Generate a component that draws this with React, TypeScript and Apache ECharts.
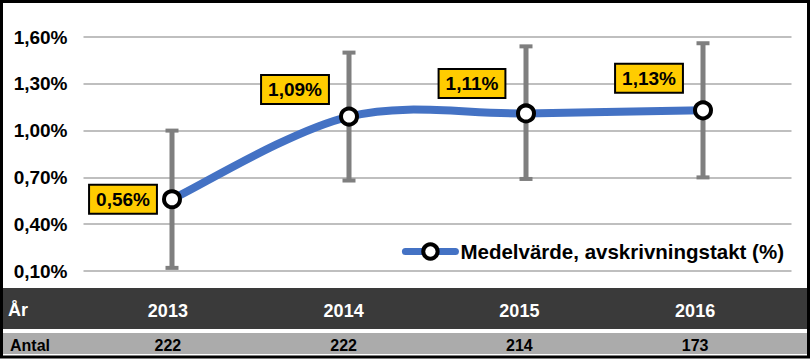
import React, { useEffect, useRef } from "react";
import * as echarts from "echarts";

const years = ["2013", "2014", "2015", "2016"];
const counts = ["222", "222", "214", "173"];
const meanValues = [0.56, 1.09, 1.11, 1.13];
const errLow = [0.12, 0.68, 0.69, 0.7];
const errHigh = [1.0, 1.5, 1.54, 1.56];
const labelOffsets: [number, number][] = [[-49, 0], [-54, -27], [-54, -30], [-54, -32]];
const seriesName = "Medelvärde, avskrivningstakt (%)";
const rowTitleYear = "År";
const rowTitleCount = "Antal";

const FONT = "'Liberation Sans', Arial, sans-serif";
const BLUE = "#4472c4";
const fmt = (v: number) => v.toFixed(2).replace(".", ",") + "%";

// segment data for a Catmull-Rom style (Excel-like) smoothed line
const n = meanValues.length;
const segments = meanValues.slice(0, n - 1).map((_, i) => {
  const a = Math.max(i - 1, 0);
  const d = Math.min(i + 2, n - 1);
  return [i, meanValues[i], a, meanValues[a], i + 1, meanValues[i + 1], d, meanValues[d]];
});

export default function App() {
  const ref = useRef<HTMLDivElement>(null);
  useEffect(() => {
    if (!ref.current) return;
    const chart = echarts.init(ref.current, null, { renderer: "svg" });
    const option: any = {
      animation: false,
      backgroundColor: "#ffffff",
      textStyle: { fontFamily: FONT },
      grid: [
        { left: 83.5, right: 19.5, top: 37, bottom: 88 },
        { left: 80, right: 28, top: 288, height: 41 },
      ],
      legend: {
        data: [
          {
            name: seriesName,
            itemStyle: { color: "#ffffff", borderColor: "#000000", borderWidth: 4 },
            lineStyle: { color: BLUE, width: 7, opacity: 1, cap: "round" },
          },
        ],
        right: 22,
        top: 236,
        itemWidth: 50,
        itemHeight: 18,
        itemGap: 6,
        textStyle: { fontSize: 20.5, fontWeight: "bold", color: "#000", fontFamily: FONT },
      },
      xAxis: [
        {
          type: "category",
          gridIndex: 0,
          data: years,
          boundaryGap: true,
          axisLine: { show: false },
          axisTick: { show: false },
          axisLabel: { show: false },
        },
        {
          type: "category",
          gridIndex: 1,
          data: years,
          position: "bottom",
          z: 10,
          axisLine: { show: false },
          axisTick: { show: false },
          axisLabel: {
            margin: -18,
            verticalAlign: "middle",
            color: "#ffffff",
            fontSize: 18,
            fontWeight: "bold",
            fontFamily: FONT,
          },
        },
        {
          type: "category",
          gridIndex: 1,
          data: counts,
          position: "bottom",
          z: 10,
          axisLine: { show: false },
          axisTick: { show: false },
          axisLabel: {
            margin: 16,
            verticalAlign: "middle",
            color: "#000000",
            fontSize: 16,
            fontWeight: "bold",
            fontFamily: FONT,
          },
        },
      ],
      yAxis: [
        {
          type: "value",
          gridIndex: 0,
          min: 0.1,
          max: 1.6,
          interval: 0.3,
          axisLine: { show: false },
          axisTick: { show: false },
          splitLine: { lineStyle: { color: "#bfbfbf", width: 2 } },
          axisLabel: {
            margin: 16,
            color: "#000",
            fontSize: 19,
            fontWeight: "bold",
            fontFamily: FONT,
            formatter: (v: number) => fmt(v),
          },
        },
        {
          type: "value",
          gridIndex: 1,
          show: false,
        },
      ],
      graphic: [
        {
          type: "rect",
          z: 0,
          shape: { x: 3, y: 288, width: 805, height: 41 },
          style: { fill: "#3a3a3a" },
        },
        {
          type: "rect",
          z: 0,
          shape: { x: 3, y: 333, width: 805, height: 21 },
          style: { fill: "#ababab" },
        },
        {
          type: "text",
          z: 11,
          x: 8,
          y: 310,
          style: {
            text: rowTitleYear,
            fill: "#ffffff",
            font: `bold 18px ${FONT}`,
            verticalAlign: "middle",
          },
        },
        {
          type: "text",
          z: 11,
          x: 10,
          y: 345,
          style: {
            text: rowTitleCount,
            fill: "#000000",
            font: `bold 16px ${FONT}`,
            verticalAlign: "middle",
          },
        },
        {
          type: "rect",
          z: 100,
          shape: { x: 1.5, y: 1.5, width: 807, height: 355.5 },
          style: { fill: "none", stroke: "#000000", lineWidth: 3 },
        },
      ],
      series: [
        {
          type: "custom",
          name: "err",
          xAxisIndex: 0,
          yAxisIndex: 0,
          z: 1,
          data: years.map((_, i) => [i, errLow[i], errHigh[i]]),
          renderItem: (params: any, api: any) => {
            const lo = api.coord([api.value(0), api.value(1)]);
            const hi = api.coord([api.value(0), api.value(2)]);
            const half = 6.5;
            const st = { stroke: "#7f7f7f", lineWidth: 5 };
            const cap = { stroke: "#7f7f7f", lineWidth: 4 };
            return {
              type: "group",
              children: [
                { type: "line", shape: { x1: lo[0], y1: lo[1], x2: hi[0], y2: hi[1] }, style: st },
                { type: "line", shape: { x1: lo[0] - half, y1: lo[1], x2: lo[0] + half, y2: lo[1] }, style: cap },
                { type: "line", shape: { x1: hi[0] - half, y1: hi[1], x2: hi[0] + half, y2: hi[1] }, style: cap },
              ],
            };
          },
        },
        {
          type: "custom",
          name: "curve",
          xAxisIndex: 0,
          yAxisIndex: 0,
          z: 2,
          encode: { x: 0, y: 1 },
          data: segments,
          renderItem: (params: any, api: any) => {
            const p1 = api.coord([api.value(0), api.value(1)]);
            const p0 = api.coord([api.value(2), api.value(3)]);
            const p2 = api.coord([api.value(4), api.value(5)]);
            const p3 = api.coord([api.value(6), api.value(7)]);
            const c1x = p1[0] + (p2[0] - p0[0]) / 6;
            const c1y = p1[1] + (p2[1] - p0[1]) / 6;
            const c2x = p2[0] - (p3[0] - p1[0]) / 6;
            const c2y = p2[1] - (p3[1] - p1[1]) / 6;
            return {
              type: "bezierCurve",
              shape: { x1: p1[0], y1: p1[1], cpx1: c1x, cpy1: c1y, cpx2: c2x, cpy2: c2y, x2: p2[0], y2: p2[1] },
              style: { stroke: BLUE, lineWidth: 8, fill: "none", lineCap: "round" },
            };
          },
        },
        {
          type: "line",
          name: seriesName,
          xAxisIndex: 0,
          yAxisIndex: 0,
          z: 3,
          symbol: "circle",
          symbolSize: 16,
          lineStyle: { color: BLUE, width: 7, opacity: 0 },
          itemStyle: { color: "#ffffff", borderColor: "#000000", borderWidth: 4 },
          data: meanValues.map((v, i) => ({
            value: v,
            label: {
              show: true,
              position: "inside",
              offset: labelOffsets[i],
              formatter: () => fmt(v),
              backgroundColor: "#ffcc00",
              borderColor: "#000000",
              borderWidth: 2,
              padding: [4, 6, 3, 6],
              lineHeight: 20,
              color: "#000000",
              fontSize: 19,
              fontWeight: "bold",
              fontFamily: FONT,
            },
          })),
        },
      ],
    };
    chart.setOption(option);
    return () => chart.dispose();
  }, []);
  return (
    <div
      ref={ref}
      style={{ position: "absolute", left: 0, top: 0, width: 811, height: 359 }}
    />
  );
}
